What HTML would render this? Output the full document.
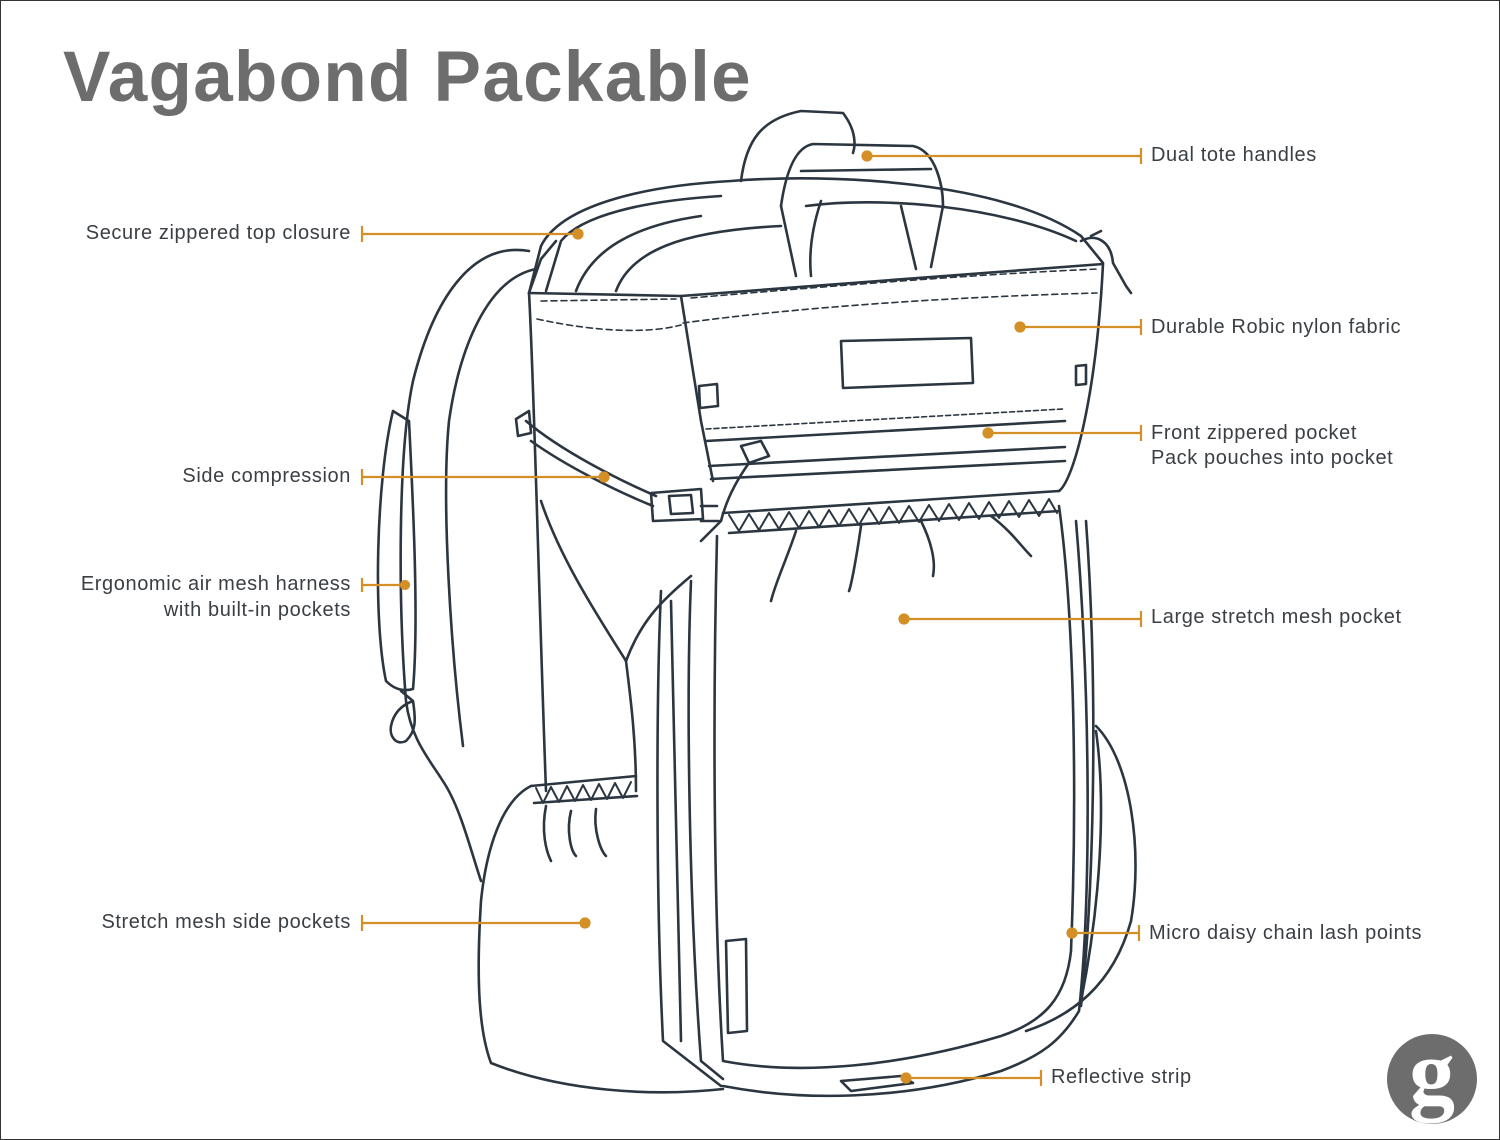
<!DOCTYPE html>
<html><head><meta charset="utf-8"><style>
html,body{margin:0;padding:0;background:#fff}
.wrap{position:relative;width:1498px;height:1138px;border:1px solid #333;overflow:hidden;font-family:"Liberation Sans",sans-serif}
svg{position:absolute;left:0;top:0}
</style></head><body><div class="wrap">
<svg width="1500" height="1140" viewBox="0 0 1500 1140">
<text x="62" y="100" font-family="Liberation Sans, sans-serif" font-weight="bold" font-size="71" letter-spacing="1.3" fill="#6d6d6d">Vagabond Packable</text>
<g fill="none" stroke="#2b3640" stroke-width="2.6" stroke-linejoin="round" stroke-linecap="round">
<path d="M740,180 C745,140 760,118 800,110 L842,112 C852,125 856,140 852,152"/>
<path d="M528,292 L540,245 C560,205 640,185 730,180 C830,172 1000,180 1080,235 L1102,262"/>
<path d="M545,290 L560,240 C580,215 640,200 720,195"/>
<path d="M575,290 C590,250 630,225 700,215"/>
<path d="M615,290 C630,250 680,230 780,225"/>
<path d="M805,205 C880,195 1000,205 1075,240"/>
<path d="M780,205 C785,170 795,146 812,143 L912,145 C935,150 942,185 942,205"/>
<path d="M780,205 L795,275 M820,200 C810,230 808,255 810,275 M942,205 L930,266 M900,205 L915,268"/>
<path d="M800,170 L930,168"/>
<path d="M528,292 L680,295 L1102,263 C1095,400 1072,480 1058,490"/>
<path d="M528,292 C533,380 538,600 545,790"/>
<path d="M680,295 L700,420 L712,480"/>
<path d="M536,318 C600,332 650,332 680,324 M682,322 C800,306 950,296 1096,292" stroke-dasharray="6 4" stroke-width="1.6"/>
<path d="M540,300 L675,298 M690,297 C850,283 1000,272 1098,268" stroke-dasharray="6 4" stroke-width="1.6"/>
<path d="M840,340 L970,337 L972,382 L842,387 Z"/>
<path d="M698,385 L716,383 L717,405 L699,407 Z"/>
<path d="M1075,365 L1085,364 L1085,383 L1075,384 Z"/>
<path d="M705,428 L1062,408" stroke-dasharray="5 3" stroke-width="1.6"/>
<path d="M705,440 L1064,420 M708,465 L1064,446 M710,478 L1064,460"/>
<path d="M740,445 L760,440 L768,455 L748,462 Z M748,462 C735,480 725,500 720,520 L700,540"/>
<path d="M722,512 L1058,490 M728,532 L1058,510"/>
<polyline points="728,514 738,530 748,513 758,529 768,512 778,528 788,511 798,527 808,510 818,526 828,509 838,525 848,508 858,524 868,507 878,523 888,506 898,522 908,505 918,521 928,504 938,520 948,503 958,519 968,502 978,518 988,501 998,517 1008,500 1018,516 1028,499 1038,515 1048,498 1056,512" stroke-width="2"/>
<path d="M716,535 C712,700 712,900 722,1060 C800,1075 900,1065 1000,1035 C1045,1020 1065,995 1070,950 C1076,800 1074,620 1058,505"/>
<path d="M795,530 C785,560 775,580 770,600 M860,525 C855,560 850,585 848,590 M920,520 C930,540 935,560 932,575 M990,515 C1010,530 1020,545 1030,555"/>
<path d="M660,590 C655,700 655,900 662,1040 L720,1085 M690,580 C685,700 688,900 700,1060 L722,1078 M670,600 L680,1040"/>
<path d="M722,1085 C800,1100 900,1100 1000,1070 C1040,1055 1060,1040 1078,1010 C1090,900 1090,700 1075,520"/>
<path d="M1085,520 C1098,700 1092,900 1080,1005"/>
<path d="M725,940 L745,938 L746,1030 L727,1032 Z"/>
<path d="M840,1080 L900,1075 L912,1082 L850,1090 Z"/>
<path d="M540,500 C560,560 600,620 625,660 C640,620 660,600 690,575"/>
<path d="M625,660 C630,700 635,740 635,790"/>
<path d="M530,785 L635,775 M533,802 L636,795"/>
<polyline points="535,787 542,802 550,786 558,801 566,785 574,800 582,784 590,799 598,783 606,798 614,782 622,797 630,781" stroke-width="2"/>
<path d="M530,785 C500,800 485,850 480,900 C475,980 478,1030 490,1062 C560,1090 650,1096 722,1088"/>
<path d="M545,805 C540,830 545,850 550,860 M570,810 C565,830 570,850 575,855 M595,808 C592,830 600,850 605,855"/>
<path d="M525,420 C560,450 620,480 655,495 M530,440 C565,465 615,490 652,505"/>
<path d="M515,418 L528,410 L530,432 L517,435 Z"/>
<path d="M650,492 L700,488 L702,518 L652,520 Z M668,495 L690,494 L692,512 L670,513 Z"/>
<path d="M700,505 L716,505 M700,520 L718,520"/>
<path d="M528,250 C470,240 432,300 412,380 C397,450 397,600 405,700 C410,740 430,760 445,785 C460,810 470,850 480,880"/>
<path d="M535,268 C485,278 458,350 448,420 C440,500 450,650 462,745"/>
<path d="M392,410 C375,480 372,620 385,680 C395,690 405,690 412,688 C418,620 412,500 408,420 Z"/>
<path d="M400,690 L412,700 C415,720 415,730 405,740 C395,745 388,735 390,725 C392,715 398,705 412,700"/>
<path d="M555,240 L540,258 L528,292"/>
<path d="M1080,240 C1095,232 1110,240 1112,262 L1125,285 L1130,292 M1090,235 L1100,230"/>
<path d="M1095,725 C1130,760 1142,850 1130,920 C1112,985 1070,1015 1025,1030"/>
<path d="M1095,730 C1105,800 1100,900 1080,1000"/>
</g>
<g stroke="#d48f27" stroke-width="2.2" fill="#d48f27">
<line x1="866" y1="155" x2="1140" y2="155"/><line x1="1140" y1="147" x2="1140" y2="163"/><circle cx="866" cy="155" r="4.5"/>
<line x1="361" y1="233" x2="577" y2="233"/><line x1="361" y1="225" x2="361" y2="241"/><circle cx="577" cy="233" r="4.5"/>
<line x1="1019" y1="326" x2="1140" y2="326"/><line x1="1140" y1="318" x2="1140" y2="334"/><circle cx="1019" cy="326" r="4.5"/>
<line x1="987" y1="432" x2="1140" y2="432"/><line x1="1140" y1="424" x2="1140" y2="440"/><circle cx="987" cy="432" r="4.5"/>
<line x1="361" y1="476" x2="603" y2="476"/><line x1="361" y1="468" x2="361" y2="484"/><circle cx="603" cy="476" r="4.5"/>
<line x1="361" y1="584" x2="404" y2="584"/><line x1="361" y1="577" x2="361" y2="591"/><circle cx="404" cy="584" r="4"/>
<line x1="903" y1="618" x2="1140" y2="618"/><line x1="1140" y1="610" x2="1140" y2="626"/><circle cx="903" cy="618" r="4.5"/>
<line x1="361" y1="922" x2="584" y2="922"/><line x1="361" y1="914" x2="361" y2="930"/><circle cx="584" cy="922" r="4.5"/>
<line x1="1071" y1="932" x2="1138" y2="932"/><line x1="1138" y1="924" x2="1138" y2="940"/><circle cx="1071" cy="932" r="4.5"/>
<line x1="905" y1="1077" x2="1040" y2="1077"/><line x1="1040" y1="1069" x2="1040" y2="1085"/><circle cx="905" cy="1077" r="4.5"/>
</g>
<g font-family="Liberation Sans, sans-serif" font-size="20" letter-spacing="0.6" fill="#3a3f44">
<text x="1150" y="160">Dual tote handles</text>
<text x="350" y="238" text-anchor="end">Secure zippered top closure</text>
<text x="1150" y="332">Durable Robic nylon fabric</text>
<text x="1150" y="438">Front zippered pocket</text>
<text x="1150" y="463">Pack pouches into pocket</text>
<text x="350" y="481" text-anchor="end">Side compression</text>
<text x="350" y="589" text-anchor="end">Ergonomic air mesh harness</text>
<text x="350" y="615" text-anchor="end">with built-in pockets</text>
<text x="1150" y="622">Large stretch mesh pocket</text>
<text x="350" y="927" text-anchor="end">Stretch mesh side pockets</text>
<text x="1148" y="938">Micro daisy chain lash points</text>
<text x="1050" y="1082">Reflective strip</text>
</g>
<circle cx="1431" cy="1078" r="45" fill="#6d6d6d"/>
<text x="1431" y="1102" text-anchor="middle" font-family="Liberation Serif, serif" font-weight="bold" font-size="92" fill="#fff">g</text>
</svg>
</div></body></html>
